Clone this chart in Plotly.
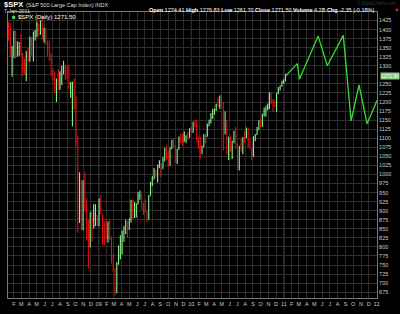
import pandas as pd
import plotly.graph_objects as go

# ---------------- data (weekly approximation of the daily $SPX bars) ----------------
opens = [1415,1402,1325,1330,1395,1331,1349,1353,1331,1294,1288,1330,1316,1370,1332,1390,1397,1414,1388,1425,
         1375,1400,1361,1360,1318,1278,1262,1239,1260,1257,1260,1296,1298,1292,1283,1242,1252,1255,1213,1099,
         899,940,877,968,930,873,800,896,876,879,887,873,
         931,890,851,832,826,869,827,770,735,683,756,768,816,843,857,870,866,878,929,882,
         887,919,940,946,921,918,897,879,941,979,987,1011,1005,1026,1029,1016,1042,1068,1044,1025,
         1071,1087,1079,1036,1069,1093,1091,1091,1106,1106,1102,1127,1115,
         1145,1136,1091,1074,1066,1075,1109,1105,1139,1150,1160,1167,1179,1194,1192,1217,1187,1111,1136,1088,
         1089,1065,1092,1117,1076,1022,1078,1065,1102,1101,1122,1079,1071,1065,1105,1110,1125,1149,1146,1165,
         1176,1183,1183,1225,1199,1199,1189,1224,1240,1244,1257,1258]
highs = [1421,1418,1355,1396,1396,1368,1366,1388,1335,1321,1341,1349,1380,1380,1395,1399,1422,1416,1425,1440,
         1406,1404,1370,1370,1335,1291,1285,1265,1291,1285,1300,1314,1300,1300,1303,1255,1256,1265,1215,1106,
         1006,985,984,1007,934,875,896,896,918,918,887,934,
         943,891,871,877,870,875,828,780,742,758,804,832,845,857,876,871,878,930,930,924,
         920,951,956,946,922,931,898,943,979,996,1018,1013,1027,1039,1031,1048,1074,1080,1065,1075,
         1096,1101,1081,1071,1105,1113,1112,1119,1108,1118,1127,1133,1145,
         1150,1150,1104,1104,1080,1112,1112,1139,1151,1170,1181,1182,1195,1214,1217,1219,1200,1174,1150,1104,
         1105,1092,1121,1131,1086,1078,1099,1103,1120,1130,1129,1100,1074,1105,1112,1131,1149,1151,1168,1184,
         1190,1196,1227,1226,1208,1205,1225,1241,1246,1259,1263,1278]
lows = [1370,1325,1270,1322,1320,1325,1327,1330,1272,1275,1257,1312,1312,1328,1312,1370,1379,1382,1386,1373,
        1364,1359,1326,1314,1272,1258,1225,1200,1234,1234,1247,1276,1261,1264,1236,1212,1133,1180,1077,839,
        866,845,846,899,818,741,799,815,851,857,857,857,
        890,805,804,821,812,818,754,731,666,672,751,766,779,814,836,826,847,867,878,880,
        881,918,930,903,888,895,869,875,942,968,987,991,978,1017,992,1016,1036,1041,1020,1025,
        1070,1075,1033,1029,1069,1086,1079,1090,1086,1094,1102,1115,1115,
        1131,1090,1071,1044,1056,1075,1086,1105,1133,1141,1153,1165,1175,1186,1181,1184,1066,1111,1055,1040,
        1063,1043,1086,1071,1011,1011,1064,1056,1088,1101,1076,1069,1040,1048,1092,1109,1122,1131,1131,1160,
        1159,1177,1181,1194,1174,1186,1173,1222,1232,1243,1250,1257]
closes = [1401,1325,1330,1395,1331,1349,1353,1331,1294,1288,1330,1316,1370,1332,1390,1397,1414,1388,1425,1375,
          1400,1361,1360,1318,1278,1262,1239,1260,1257,1260,1296,1298,1292,1283,1242,1252,1255,1213,1099,899,
          940,877,968,930,873,800,896,876,879,887,873,931,
          890,851,832,826,869,827,770,735,683,756,768,816,843,857,870,866,878,929,882,887,
          919,940,946,921,918,897,879,941,979,987,1011,1005,1026,1029,1016,1042,1068,1044,1025,1071,
          1087,1079,1036,1069,1093,1091,1091,1106,1106,1102,1127,1115,1145,
          1136,1091,1074,1066,1075,1109,1105,1139,1150,1160,1167,1179,1194,1192,1217,1187,1111,1136,1088,1089,
          1065,1092,1117,1076,1022,1078,1065,1102,1101,1122,1079,1071,1065,1105,1110,1125,1149,1146,1165,1176,
          1183,1183,1225,1199,1199,1189,1224,1240,1244,1257,1258,1271.5]
week_dates = pd.date_range("2008-01-11", periods=len(closes), freq="W-FRI")

# projection drawn after the last bar
proj_dates = ["2011-01-07", "2011-02-23", "2011-03-03", "2011-05-16", "2011-06-21",
              "2011-08-23", "2011-09-23", "2011-10-24", "2011-11-25", "2012-01-03"]
proj_values = [1271.5, 1306, 1263, 1382, 1300, 1384, 1148, 1247, 1140, 1204]

# axis ticks
month_ticks = pd.date_range("2008-02-01", "2012-01-01", freq="MS")
month_letters = ["J", "F", "M", "A", "M", "J", "J", "A", "S", "O", "N", "D"]
month_text = [("%02d" % (d.year % 100)) if d.month == 1 else month_letters[d.month - 1] for d in month_ticks]
year_starts = ["2009-01-01", "2010-01-01", "2011-01-01"]
price_ticks = list(range(675, 1426, 25))
hidden_price_tick = 1275  # covered by the last-price tag in the reference
price_text = ["" if v == hidden_price_tick else str(v) for v in price_ticks]

header_left = "$SPX"
header_sub = "(S&P 500 Large Cap Index) INDX"
header_date = "7-Jan-2011"
quote_text = ("<b>Open</b> 1274.41 <b>High</b> 1276.83 <b>Low</b> 1261.70 "
              "<b>Close</b> 1271.50 <b>Volume</b> 4.2B <b>Chg</b> -2.35 (-0.18%)")
legend_text = "$SPX (Daily) 1271.50"
last_price = 1271.5

# ---------------- figure ----------------
W, H = 400, 314
L, R, T, B = 7, 23, 12, 9
PW, PH = W - L - R, H - T - B
FONT = "Liberation Sans, Arial, sans-serif"


def px(xp):
    return (xp - L) / PW


def py(yp):
    return (H - B - yp) / PH


fig = go.Figure()
fig.add_trace(go.Ohlc(
    x=week_dates, open=opens, high=highs, low=lows, close=closes,
    increasing=dict(line=dict(color="#8cf08c", width=1.1)),
    decreasing=dict(line=dict(color="#e01010", width=1.1)),
    tickwidth=0.35, hoverinfo="skip", showlegend=False,
))
fig.add_trace(go.Scatter(
    x=proj_dates, y=proj_values, mode="lines",
    line=dict(color="#33dd33", width=1.3), hoverinfo="skip", showlegend=False,
))

for ys in year_starts:
    fig.add_shape(type="line", xref="x", yref="paper", x0=ys, x1=ys, y0=0, y1=1,
                  line=dict(color="#4a4a4a", width=1), layer="below")

annotations = [
    dict(x=px(1), y=py(4.2), text="<b>" + header_left + "</b>", font=dict(size=7.5, color="#ffffff")),
    dict(x=px(23), y=py(4.5), text=header_sub, font=dict(size=5.5, color="#dddddd")),
    dict(x=px(1), y=py(10.8), text=header_date, font=dict(size=5.2, color="#dddddd")),
    dict(x=px(15), y=py(17.5), text=legend_text, font=dict(size=6, color="#ffffff")),
    dict(x=px(9), y=py(17.5), text="■", font=dict(size=6, color="#66cc66")),
    dict(x=px(398), y=py(2.5), text="© StockCharts.com", font=dict(size=4.5, color="#3a3a3a"),
         xanchor="right"),
]
for a in annotations:
    a.setdefault("xanchor", "left")
    a.update(xref="paper", yref="paper", yanchor="middle", showarrow=False)
fig.update_layout(annotations=annotations)
fig.add_annotation(x=px(376), y=py(10.3), xref="paper", yref="paper", xanchor="right", yanchor="middle",
                   text=quote_text, showarrow=False, font=dict(size=5.5, color="#ffffff"))
fig.add_annotation(x=px(397), y=py(10.3), xref="paper", yref="paper", xanchor="center", yanchor="middle",
                   text="▼", showarrow=False, font=dict(size=5.5, color="#ff2020"))
fig.add_annotation(x=1, y=last_price, xref="paper", yref="y", xanchor="left", yanchor="middle",
                   xshift=3, text="1271.50", showarrow=False, bgcolor="#86c886",
                   font=dict(size=5, color="#ffffff"), borderpad=0)

fig.update_layout(
    width=W, height=H, margin=dict(l=L, r=R, t=T, b=B),
    paper_bgcolor="#000000", plot_bgcolor="#000000",
    font=dict(family=FONT, size=6, color="#cccccc"),
    xaxis=dict(type="date", range=["2008-01-09", "2012-01-03"], rangeslider=dict(visible=False),
               tickvals=list(month_ticks), ticktext=month_text, tickangle=0,
               showgrid=True, gridcolor="#2c2c2c", gridwidth=1,
               showline=True, linecolor="#777777", linewidth=1, mirror=True,
               ticks="", tickfont=dict(size=5.5, color="#cccccc"), zeroline=False),
    yaxis=dict(range=[659, 1448.5], side="right", tickvals=price_ticks, ticktext=price_text,
               showgrid=True, gridcolor="#2c2c2c", gridwidth=1,
               showline=True, linecolor="#777777", linewidth=1, mirror=True,
               ticks="", tickfont=dict(size=5.5, color="#cccccc"), zeroline=False),
    showlegend=False,
)

fig.write_html("out.html")
